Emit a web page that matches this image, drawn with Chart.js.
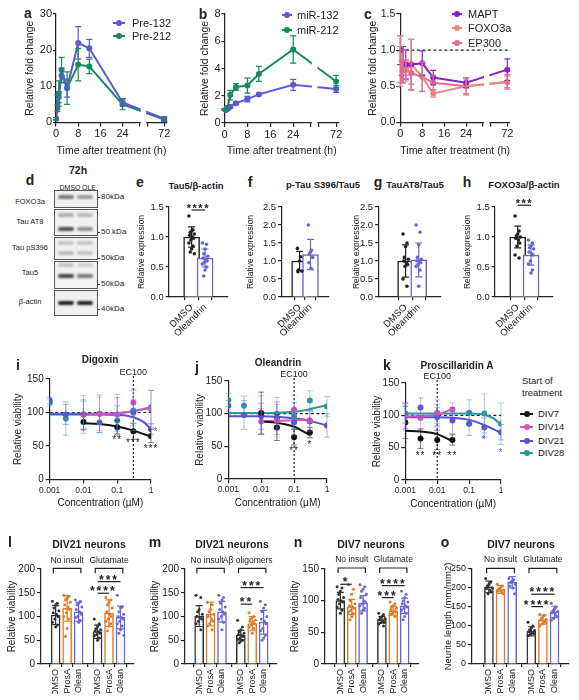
<!DOCTYPE html>
<html>
<head>
<meta charset="utf-8">
<title>Oleandrin / cardiac glycoside figure</title>
<script src="https://cdn.jsdelivr.net/npm/chart.js@4.4.1/dist/chart.umd.min.js"></script>
<style>
  body { margin: 0; width: 579px; height: 700px; position: relative; overflow: hidden; background: #fff;
         font-family: "Liberation Sans", Arial, sans-serif; color: #222; }
  canvas { position: absolute; }
  .t { position: absolute; white-space: nowrap; line-height: 1; transform: translate(-50%, -50%); }
  .l { position: absolute; white-space: nowrap; line-height: 1; transform: translateY(-50%); }
  .b { font-weight: bold; }
  .blot { position: absolute; border: 1px solid #555; background: #f1f1f1; box-sizing: border-box; }
  .band { position: absolute; border-radius: 3px; filter: blur(1px); }
</style>
</head>
<body>
<script>
// ---- row 1: time courses (a, b, c) ----
const hours = [0, 0.5, 1, 2, 4, 8, 12, 24, 72];
const timeTicks = [0, 8, 16, 24, 72];

const pre132 = [1, 4, 7, 13, 9.5, 22, 20.5, 5.5, 1];
const pre132Sd = [0.3, 1, 1.5, 2, 2.5, 4.5, 2.5, 1, 0.6];
const pre212 = [1, 5.5, 8, 14.5, 9.5, 16, 15.5, 5, 0.8];
const pre212Sd = [0.3, 2, 3.5, 3.5, 4.5, 4.5, 2, 1.5, 0.5];

const mir132 = [1, 0.95, 1.05, 1.2, 1.45, 1.75, 2.1, 2.8, 2.5];
const mir132Sd = [0.05, 0.1, 0.1, 0.1, 0.1, 0.2, 0.1, 0.4, 0.25];
const mir212 = [1, 1, 1.1, 2.05, 2.65, 2.75, 3.6, 5.4, 3.05];
const mir212Sd = [0.05, 0.1, 0.15, 0.35, 0.25, 0.55, 0.55, 1.0, 0.45];

const mapt = [1.0, 0.85, 0.8, 0.8, 0.8, 0.82, 0.62, 0.55, 0.73];
const maptSd = [0.2, 0.2, 0.25, 0.2, 0.35, 0.17, 0.1, 0.07, 0.15];
const foxo3a = [0.85, 0.75, 0.75, 0.72, 0.8, 0.63, 0.4, 0.5, 0.56];
const foxo3aSd = [0.35, 0.2, 0.2, 0.15, 0.35, 0.2, 0.05, 0.1, 0.08];
const ep300 = [0.8, 0.7, 0.8, 0.75, 0.68, 0.63, 0.55, 0.5, 0.56];
const ep300Sd = [0.25, 0.15, 0.2, 0.1, 0.15, 0.2, 0.1, 0.12, 0.1];

// ---- row 2: western blot quantification (e-h) ----
const treatNames = ['DMSO', 'Oleandrin'];
const tau5Mean = [1.0, 0.65];
const tau5Sd = [0.17, 0.15];
const tau5Dmso = [1.35, 1.12, 1.1, 1.08, 1.05, 1.03, 1.0, 0.98, 0.95, 0.9, 0.85, 0.8, 0.75, 0.72];
const tau5Ole = [0.9, 0.88, 0.8, 0.72, 0.68, 0.65, 0.63, 0.6, 0.58, 0.55, 0.5, 0.45, 0.35];
const ps396Mean = [1.0, 1.18];
const ps396Sd = [0.27, 0.42];
const ps396Dmso = [1.35, 1.12, 1.0, 0.75, 0.72, 0.7];
const ps396Ole = [2.0, 1.3, 1.25, 1.2, 1.1, 0.95, 0.8];
const at8Mean = [1.0, 1.03];
const at8Sd = [0.45, 0.47];
const at8Dmso = [1.75, 1.5, 1.4, 1.1, 1.05, 1.0, 0.95, 0.9, 0.85, 0.5, 0.3];
const at8Ole = [2.0, 1.8, 1.45, 1.1, 1.05, 1.0, 1.0, 0.95, 0.9, 0.85, 0.75, 0.3];
const foxMean = [1.0, 0.7];
const foxSd = [0.18, 0.17];
const foxDmso = [1.35, 1.1, 1.05, 1.02, 1.0, 0.98, 0.95, 0.9, 0.85, 0.7, 0.65];
const foxOle = [0.95, 0.9, 0.85, 0.82, 0.8, 0.75, 0.72, 0.7, 0.6, 0.55, 0.45, 0.4];

// ---- row 3: dose response (i, j, k) ----
const conc = [0.001, 0.003, 0.01, 0.03, 0.1, 0.3, 1];
const concTicks = [0.001, 0.01, 0.1, 1];
const divNames = ['DIV7', 'DIV14', 'DIV21', 'DIV28'];

const digoxinMean = [
  [null, null, 86, null, 78, 72, 65],
  [null, null, 97, 98, 97, 115, 105],
  [118, 97, 97, 85, 97, 100, 75],
  [115, 91, 97, 98, 88, 103, 108]
];
const digoxinSd = [
  [null, null, 12, null, 10, 12, 10],
  [null, null, 28, 25, 30, 20, 28],
  [5, 15, 22, 15, 25, 20, 8],
  [5, 25, 20, 28, 22, 30, 25]
];
const digoxinFitConc = [
  [0.01, 0.03, 0.1, 0.3, 1],
  [0.01, 0.03, 0.1, 0.3, 1],
  [0.001, 0.01, 0.1, 0.3, 0.6, 1],
  [0.001, 0.01, 0.1, 0.3, 1]
];
const digoxinFit = [
  [84, 83, 79, 73, 64],
  [97, 97.5, 99, 102, 108],
  [97, 97, 96.5, 93, 86, 75],
  [98, 98, 99, 102, 107]
];

const oleandrinMean = [
  [null, null, 101, 79, 64, 71, null],
  [null, null, 88, 89, 106, 90, null],
  [112, 98, 96, 93, 87, 88, 82],
  [121, 112, 98, 100, 97, 120, 111]
];
const oleandrinSd = [
  [null, null, 32, 20, 12, 8, null],
  [null, null, 20, 25, 22, 15, null],
  [8, 22, 20, 25, 20, 15, 18],
  [10, 15, 30, 25, 20, 15, 15]
];
const oleandrinFitConc = [
  [0.01, 0.03, 0.1, 0.3],
  [0.01, 0.1, 0.3],
  [0.001, 0.01, 0.1, 0.3, 1],
  [0.001, 0.01, 0.1, 0.3, 1]
];
const oleandrinFit = [
  [88, 86, 80, 67],
  [88, 90, 91],
  [96, 96, 93, 89, 82],
  [101, 101, 103, 107, 113]
];

const proscMean = [
  [89, 64, 62, 62, null, null, null],
  [98, 96, 104, 109, null, null, null],
  [100, 112, 97, 92, 87, 81, 74],
  [103, null, 102, null, 104, 103, 87]
];
const proscSd = [
  [25, 15, 15, 8, null, null, null],
  [20, 18, 20, 10, null, null, null],
  [20, 15, 15, 20, 18, 15, 12],
  [15, null, 15, null, 20, 30, 32]
];
const proscFitConc = [
  [0.001, 0.003, 0.01, 0.03],
  [0.001, 0.01, 0.03],
  [0.001, 0.01, 0.1, 0.3, 1],
  [0.001, 0.1, 0.3, 0.6, 1]
];
const proscFit = [
  [76, 75, 71, 60],
  [98, 101, 110],
  [97, 97, 93, 85, 73],
  [103, 103, 101, 95, 85]
];

// ---- row 4: neuroprotection (l, m, n, o) ----
const drugNames = ['DMSO', 'ProsA', 'Olean', 'DMSO', 'ProsA', 'Olean'];

const lMean = [103, 117, 110, 68, 107, 98];
const lSd = [20, 27, 20, 14, 28, 24];
const lDots = [
  [132, 128, 125, 118, 112, 108, 105, 100, 95, 88, 82, 78],
  [145, 142, 138, 135, 130, 125, 120, 115, 108, 100, 95, 75, 58],
  [135, 132, 128, 125, 120, 115, 110, 105, 100, 98, 92, 88],
  [95, 85, 80, 75, 72, 70, 68, 65, 62, 60, 55, 50],
  [140, 135, 130, 125, 118, 110, 105, 100, 95, 90, 85, 80, 70],
  [145, 120, 118, 110, 105, 100, 98, 95, 90, 85, 80, 72, 65, 60]
];
const mMean = [101, 105, 110, 61, 85, 88];
const mSd = [22, 25, 22, 10, 15, 25];
const mDots = [
  [145, 140, 115, 110, 105, 100, 98, 95, 90, 85, 72],
  [130, 125, 115, 110, 105, 100, 95, 90, 85, 80, 72],
  [145, 140, 135, 128, 120, 115, 110, 105, 100, 95, 88, 72],
  [92, 78, 72, 68, 65, 62, 60, 58, 55, 52, 50, 48, 45],
  [108, 100, 98, 95, 92, 90, 88, 85, 82, 78, 75, 65],
  [132, 125, 118, 110, 100, 95, 90, 85, 75, 70, 60, 55, 50]
];
const nMean = [100, 90, 96, 70, 84, 92];
const nSd = [13, 12, 12, 5, 7, 12];
const nDots = [
  [122, 120, 115, 110, 105, 102, 100, 98, 95, 90, 85, 80],
  [125, 118, 110, 100, 95, 92, 90, 88, 85, 82, 80, 75, 70],
  [125, 122, 118, 115, 110, 105, 100, 98, 95, 92, 88, 85, 80],
  [80, 78, 75, 73, 72, 70, 68, 66, 65, 63, 60],
  [98, 95, 92, 90, 88, 86, 84, 82, 80, 78, 75],
  [115, 110, 105, 100, 98, 95, 92, 90, 88, 85, 80, 75, 70]
];
const oMean = [203, 196, 215, 86, 117, 137];
const oSd = [15, 10, 15, 12, 12, 15];
const oDots = [
  [225, 215, 210, 205, 200, 198, 195, 190, 185],
  [210, 205, 200, 198, 195, 192, 190, 185],
  [225, 222, 218, 215, 210, 205, 200, 185],
  [110, 100, 95, 90, 88, 85, 82, 80, 78, 75],
  [130, 128, 125, 120, 118, 115, 112, 110, 105, 100],
  [160, 150, 145, 140, 138, 135, 130, 125, 120, 115]
];

// ---- styling ----
const FONT = '"Liberation Sans", Arial, sans-serif';
const INK = '#222';
const BLUE = '#5b59d3';
const GREEN = '#178a5c';
const MAPT_C = '#8b22c6', FOXO_C = '#ea8a7e', EP300_C = '#e2679a';
const DIV_C = ['#111111', '#d651c8', '#5a52d0', '#2a98a3'];
const DIV_ERR = ['rgba(17,17,17,0.55)', 'rgba(214,81,200,0.45)', 'rgba(90,82,208,0.45)', 'rgba(42,152,163,0.45)'];
const DRUG_C = ['#333333', '#e07a24', '#6b66d8', '#333333', '#e07a24', '#6b66d8'];
const OLE_C = '#6a66d0';
const groupPos = [0, 1, 2, 3.65, 4.65, 5.65];
const JIT = [-1, 0.5, 0, -0.5, 1, -0.75, 0.25, 0.75, -0.25];
const X_BREAK = [30, 33];

Chart.defaults.font.family = FONT;
Chart.defaults.color = INK;
Chart.defaults.animation = false;
Chart.defaults.plugins.legend.display = false;
Chart.defaults.plugins.tooltip.enabled = false;

function breakX(h) { return h > 30 ? 39 : h; } // 72 h sits after the axis break

// error bars, drawn from each dataset's "errors" array through its scales
const errorBars = {
  id: 'errorBars',
  afterDatasetsDraw(chart) {
    const ctx = chart.ctx;
    chart.data.datasets.forEach((ds, di) => {
      if (!ds.errors) return;
      const meta = chart.getDatasetMeta(di);
      const xs = chart.scales[meta.xAxisID], ys = chart.scales[meta.yAxisID];
      ctx.save();
      ctx.lineWidth = ds.errWidth || 1;
      ds.data.forEach((p, i) => {
        const e = ds.errors[i];
        if (!p || p.y == null || e == null) return;
        const x = xs.getPixelForValue(p.x);
        const y1 = ys.getPixelForValue(p.y + e), y2 = ys.getPixelForValue(p.y - e);
        const cap = ds.errCap || 3;
        ctx.strokeStyle = Array.isArray(ds.errColor) ? ds.errColor[i] : (ds.errColor || ds.borderColor);
        ctx.beginPath();
        ctx.moveTo(x, y1); ctx.lineTo(x, y2);
        ctx.moveTo(x - cap, y1); ctx.lineTo(x + cap, y1);
        ctx.moveTo(x - cap, y2); ctx.lineTo(x + cap, y2);
        ctx.stroke();
      });
      ctx.restore();
    });
  }
};

function annotPlugin(cfg) {
  return {
    id: 'annot',
    beforeDatasetsDraw(chart) {
      const { ctx, chartArea: a, scales } = chart;
      const xs = scales.x, ys = scales.y;
      ctx.save();
      ctx.strokeStyle = INK;
      ctx.lineWidth = 1.2;
      (cfg.hlines || []).forEach(v => {
        const py = ys.getPixelForValue(v);
        ctx.setLineDash([3, 2.5]);
        ctx.beginPath(); ctx.moveTo(a.left, py); ctx.lineTo(a.right, py); ctx.stroke();
      });
      (cfg.vlines || []).forEach(v => {
        const px = xs.getPixelForValue(v.x);
        ctx.setLineDash([2, 2]);
        ctx.beginPath(); ctx.moveTo(px, a.top - 3); ctx.lineTo(px, a.bottom); ctx.stroke();
        ctx.setLineDash([]);
        ctx.fillStyle = INK; ctx.font = '9px ' + FONT;
        ctx.textAlign = 'center'; ctx.textBaseline = 'bottom';
        ctx.fillText(v.label, px, a.top - 2);
      });
      ctx.restore();
    },
    afterDatasetsDraw(chart) {
      const { ctx, chartArea: a, scales } = chart;
      const xs = scales.x, ys = scales.y;
      ctx.save();
      if (cfg.gap) {
        const g1 = xs.getPixelForValue(cfg.gap[0]) + 1.5, g2 = xs.getPixelForValue(cfg.gap[1]) - 1.5;
        ctx.fillStyle = '#fff';
        ctx.fillRect(g1, a.top - 5, g2 - g1, a.bottom - a.top + 7);
      }
      ctx.strokeStyle = INK; ctx.fillStyle = INK; ctx.lineWidth = 1.2;
      ctx.textAlign = 'center';
      (cfg.brackets || []).forEach(b => {
        const x1 = xs.getPixelForValue(b.x1), x2 = xs.getPixelForValue(b.x2), y = ys.getPixelForValue(b.y);
        ctx.beginPath(); ctx.moveTo(x1, y + 5); ctx.lineTo(x1, y); ctx.lineTo(x2, y); ctx.lineTo(x2, y + 5); ctx.stroke();
        ctx.font = '8.5px ' + FONT; ctx.textBaseline = 'middle';
        ctx.fillText(b.label, xs.getPixelForValue(b.lx), ys.getPixelForValue(b.ly));
      });
      (cfg.sigs || []).forEach(s => {
        const x1 = xs.getPixelForValue(s.x1), x2 = xs.getPixelForValue(s.x2), y = ys.getPixelForValue(s.y);
        ctx.beginPath(); ctx.moveTo(x1, y); ctx.lineTo(x2, y); ctx.stroke();
        ctx.font = 'bold ' + (cfg.sigSize || 12) + 'px ' + FONT;
        ctx.letterSpacing = (cfg.sigSpace || 1) + 'px';
        ctx.textBaseline = 'alphabetic';
        ctx.fillText(s.text, (x1 + x2) / 2, y + 2);
      });
      (cfg.texts || []).forEach(t => {
        ctx.fillStyle = t.color || INK;
        ctx.font = '10px ' + FONT;
        ctx.letterSpacing = '1px';
        ctx.textBaseline = 'middle';
        ctx.fillText(t.text, xs.getPixelForValue(t.x), ys.getPixelForValue(t.y) + 3);
      });
      ctx.restore();
    }
  };
}

function axisCfg(o) {
  const c = {
    type: o.type || 'linear',
    min: o.min, max: o.max,
    grid: { drawOnChartArea: false, drawTicks: true, tickLength: o.tl ?? 4, color: INK, lineWidth: 1.2 },
    border: { display: true, color: INK, width: 1.2 },
    ticks: { font: { size: o.fs }, color: INK, padding: o.pad ?? 2, autoSkip: false,
             maxRotation: o.rot || 0, minRotation: o.rot || 0 },
    title: { display: !!o.title, text: o.title, font: { size: o.tfs }, padding: 0, color: INK }
  };
  if (o.step) c.ticks.stepSize = o.step;
  if (o.cb) c.ticks.callback = o.cb;
  if (o.at) c.afterBuildTicks = sc => { sc.ticks = o.at.map(v => ({ value: v })); };
  return c;
}

// area = chart area [left, top, right, bottom] on the page
function makeChart(s) {
  const [l, t, r, b] = s.area;
  const L = l - s.yW, T = t - s.padT;
  const W = Math.round(r - L + s.padR), H = Math.round(b - T + s.xH);
  const cv = document.createElement('canvas');
  cv.width = W; cv.height = H;
  cv.style.left = L + 'px'; cv.style.top = T + 'px';
  document.body.appendChild(cv);
  const x = axisCfg(s.x), y = axisCfg(s.y);
  x.afterFit = sc => { sc.height = s.xH; };
  y.afterFit = sc => { sc.width = s.yW; };
  return new Chart(cv, {
    type: 'scatter',
    data: { datasets: s.datasets },
    options: {
      responsive: false,
      layout: { padding: { top: s.padT, right: s.padR, left: 0, bottom: 0 } },
      scales: { x, y }
    },
    plugins: [errorBars, annotPlugin(s.annot || {})]
  });
}

// ---------- text helpers ----------
function txt(x, y, s, size, bold, cls) {
  const d = document.createElement('div');
  d.className = (cls || 't') + (bold ? ' b' : '');
  d.style.left = x + 'px'; d.style.top = y + 'px'; d.style.fontSize = size + 'px';
  d.textContent = s;
  document.body.appendChild(d);
  return d;
}
function legendItem(x, w, tx, y, color, label, size) {
  const line = document.createElement('div');
  line.style.cssText = `position:absolute;left:${x}px;top:${y - 1}px;width:${w}px;height:2px;background:${color}`;
  const dot = document.createElement('div');
  dot.style.cssText = `position:absolute;left:${x + w / 2 - 3}px;top:${y - 3}px;width:6px;height:6px;border-radius:50%;background:${color}`;
  document.body.append(line, dot);
  txt(tx, y, label, size, false, 'l');
}

// ---------- row 1 ----------
function timeLine(vals, sd, color) {
  return {
    type: 'line', showLine: true,
    data: hours.map((h, i) => ({ x: breakX(h), y: vals[i] })),
    errors: sd, borderColor: color, backgroundColor: color, pointBackgroundColor: color,
    borderWidth: 2, pointRadius: 3, pointBorderWidth: 0, tension: 0, errCap: 3, errWidth: 1.2
  };
}
const timeAxis = {
  min: 0, max: 40, fs: 11, tl: 4, pad: 1, title: 'Time after treatment (h)', tfs: 10.5,
  at: [...timeTicks.map(breakX), ...X_BREAK],
  cb: v => { const i = timeTicks.findIndex(t => breakX(t) === v); return i >= 0 ? String(timeTicks[i]) : ''; }
};

makeChart({
  area: [55.5, 14, 166.7, 122.7], yW: 32, xH: 34.6, padT: 8, padR: 10,
  x: timeAxis,
  y: { min: 0, max: 30, step: 10, fs: 11, tl: 3, pad: 1, title: 'Relative fold change', tfs: 10.5 },
  datasets: [timeLine(pre132, pre132Sd, BLUE), timeLine(pre212, pre212Sd, GREEN)],
  annot: { gap: X_BREAK }
});
makeChart({
  area: [224, 14, 338, 123.3], yW: 25.5, xH: 34, padT: 8, padR: 10,
  x: timeAxis,
  y: { min: 0, max: 8, step: 2, fs: 11, tl: 3, pad: 1, title: 'Relative fold change', tfs: 10.5 },
  datasets: [timeLine(mir132, mir132Sd, BLUE), timeLine(mir212, mir212Sd, GREEN)],
  annot: { gap: X_BREAK }
});
makeChart({
  area: [400.7, 14, 510.7, 122.7], yW: 33.3, xH: 34.6, padT: 8, padR: 10,
  x: timeAxis,
  y: { min: 0, max: 1.5, step: 0.5, fs: 10.5, tl: 4, pad: 1, title: 'Relative fold change', tfs: 10.5,
       cb: v => v.toFixed(1) },
  datasets: [timeLine(mapt, maptSd, MAPT_C), timeLine(foxo3a, foxo3aSd, FOXO_C), timeLine(ep300, ep300Sd, EP300_C)],
  annot: { gap: X_BREAK, hlines: [1] }
});

legendItem(113, 12, 132, 23.3, BLUE, 'Pre-132', 11);
legendItem(113, 12, 132, 35.7, GREEN, 'Pre-212', 11);
legendItem(282, 10, 297, 15, BLUE, 'miR-132', 11);
legendItem(282, 10, 297, 30, GREEN, 'miR-212', 11);
legendItem(452, 10, 468, 14, MAPT_C, 'MAPT', 11);
legendItem(452, 10, 468, 28, FOXO_C, 'FOXO3a', 11);
legendItem(452, 10, 468, 42.7, EP300_C, 'EP300', 11);

// ---------- row 2 ----------
function dotSets(groups, positions, colors, spread, radius) {
  return groups.map((vals, g) => ({
    type: 'scatter', order: 1,
    data: vals.map((v, i) => ({ x: positions[g] + JIT[i % JIT.length] * spread, y: v })),
    pointRadius: radius, pointBorderWidth: 0, backgroundColor: colors[g], pointBackgroundColor: colors[g]
  }));
}
function barSet(means, sds, positions, colors, thick) {
  return {
    type: 'bar', order: 2,
    data: means.map((v, i) => ({ x: positions[i], y: v })),
    backgroundColor: '#fff', borderColor: colors, borderWidth: 1.5, barThickness: thick,
    errors: sds, errColor: colors, errCap: 3.5, errWidth: 1.2
  };
}
function exprChart(area, yW, xRange, yMax, mean, sd, dmso, ole, sig) {
  const cols = [INK, OLE_C];
  makeChart({
    area, yW, xH: 42, padT: 14, padR: 8,
    x: { min: xRange[0], max: xRange[1], fs: 9.5, tl: 3, pad: 2, rot: 45, at: [0, 1], cb: v => treatNames[v] },
    y: { min: 0, max: yMax, step: 0.5, fs: 9.5, tl: 3, pad: 2, title: 'Relative expression', tfs: 8.5,
         cb: v => v.toFixed(1) },
    datasets: [barSet(mean, sd, [0, 1], cols, 16), ...dotSets([dmso, ole], [0, 1], cols, 0.2, 1.8)],
    annot: { sigs: sig ? [sig] : [], sigSize: 11, sigSpace: 1.5 }
  });
}
exprChart([168.3, 206.7, 228, 297], 31.7, [-0.6, 1.6], 1.5, tau5Mean, tau5Sd, tau5Dmso, tau5Ole,
          { x1: 0, x2: 1, y: 1.45, text: '****' });
exprChart([281, 206.7, 329.3, 297], 35.1, [-0.6, 1.6], 2.5, ps396Mean, ps396Sd, ps396Dmso, ps396Ole, null);
exprChart([378, 206.7, 440.4, 297], 26.1, [-0.9, 1.5], 2.5, at8Mean, at8Sd, at8Dmso, at8Ole, null);
exprChart([495, 206.7, 553.3, 297], 31.8, [-0.63, 1.56], 1.5, foxMean, foxSd, foxDmso, foxOle,
          { x1: 0, x2: 1, y: 1.53, text: '***' });

// blot (panel d)
const blotLanes = [66, 85];
const blotRows = [
  { name: 'FOXO3a', ny: 201.7, top: 190, h: 18, kda: '80kDa', ky: 196.7, bands: [[197, 0.55, 0.4]] },
  { name: 'Tau AT8', ny: 221.7, top: 209, h: 27, kda: '50 kDa', ky: 232.3, bands: [[215, 0.3, 0.25], [229, 0.75, 0.45]] },
  { name: 'Tau pS396', ny: 247.7, top: 237, h: 23, kda: '50kDa', ky: 257.7, bands: [[243, 0.2, 0.2], [253, 0.25, 0.22]] },
  { name: 'Tau5', ny: 273.3, top: 261, h: 28, kda: '50kDa', ky: 284.3, bands: [[265, 0.2, 0.15], [276, 0.8, 0.55]] },
  { name: 'β-actin', ny: 302.3, top: 290, h: 26, kda: '40kDa', ky: 309, bands: [[303, 0.95, 0.95]] }
];
blotRows.forEach(r => {
  const box = document.createElement('div');
  box.className = 'blot';
  box.style.cssText += `left:54px;top:${r.top}px;width:44px;height:${r.h}px`;
  document.body.appendChild(box);
  r.bands.forEach(([by, a1, a2]) => {
    [a1, a2].forEach((a, k) => {
      const band = document.createElement('div');
      band.className = 'band';
      band.style.cssText += `left:${blotLanes[k] - 8}px;top:${by - 2}px;width:16px;height:4px;background:rgba(20,20,20,${a})`;
      document.body.appendChild(band);
    });
  });
  txt(30, r.ny, r.name, 7.5);
  const tick = document.createElement('div');
  tick.style.cssText = `position:absolute;left:97px;top:${r.ky}px;width:3px;height:1px;background:#444`;
  document.body.appendChild(tick);
  txt(101, r.ky, r.kda, 8, false, 'l');
});
txt(78, 170, '72h', 10.5, true);
txt(70, 187, 'DMSO', 7);
txt(89, 187, 'OLE', 7);

// ---------- row 3 ----------
function doseSets(mean, sd, fitConc, fit) {
  const sets = [];
  mean.forEach((vals, d) => {
    sets.push({
      type: 'line', showLine: true, order: 2,
      data: fitConc[d].map((c, i) => ({ x: c, y: fit[d][i] })),
      borderColor: DIV_C[d], borderWidth: 2, pointRadius: 0, tension: 0.4, cubicInterpolationMode: 'monotone'
    });
    sets.push({
      type: 'scatter', order: 1,
      data: conc.map((c, i) => ({ x: c, y: vals[i] })),
      errors: sd[d], errColor: DIV_ERR[d], errCap: 3, errWidth: 1,
      pointRadius: 3, pointBorderWidth: 0, backgroundColor: DIV_C[d], pointBackgroundColor: DIV_C[d]
    });
  });
  return sets;
}
const concAxis = {
  type: 'logarithmic', min: 0.001, max: 1, fs: 8.5, tl: 4, pad: 2, at: concTicks,
  cb: v => String(v), title: 'Concentration (µM)', tfs: 10
};
const viabAxis = { min: 0, max: 150, step: 50, fs: 10, tl: 4, pad: 2, title: 'Relative viability', tfs: 10 };

makeChart({
  area: [50, 378.5, 151.7, 478.5], yW: 37.7, xH: 29.5, padT: 16, padR: 14,
  x: concAxis, y: viabAxis,
  datasets: doseSets(digoxinMean, digoxinSd, digoxinFitConc, digoxinFit),
  annot: { hlines: [100], vlines: [{ x: 0.3, label: 'EC100' }],
           texts: [{ x: 0.1, y: 63, text: '**' }, { x: 0.3, y: 59, text: '***' }, { x: 1, y: 49, text: '***' },
                   { x: 1.4, y: 75, text: '*', color: DIV_C[2] }] }
});
makeChart({
  area: [228.3, 380.5, 326.7, 478.7], yW: 34.3, xH: 30, padT: 16, padR: 14,
  x: concAxis, y: viabAxis,
  datasets: doseSets(oleandrinMean, oleandrinSd, oleandrinFitConc, oleandrinFit),
  annot: { hlines: [100], vlines: [{ x: 0.1, label: 'EC100' }],
           texts: [{ x: 0.1, y: 47, text: '**' }, { x: 0.3, y: 56, text: '*' }] }
});
makeChart({
  area: [405, 382.5, 501, 479], yW: 34.3, xH: 30, padT: 16, padR: 14,
  x: concAxis, y: viabAxis,
  datasets: doseSets(proscMean, proscSd, proscFitConc, proscFit),
  annot: { hlines: [100], vlines: [{ x: 0.01, label: 'EC100' }],
           texts: [{ x: 0.003, y: 41, text: '**' }, { x: 0.01, y: 41, text: '**' }, { x: 0.03, y: 41, text: '**' },
                   { x: 0.3, y: 66, text: '*', color: DIV_C[2] }, { x: 1, y: 46, text: '*', color: DIV_C[2] }] }
});
txt(522, 381, 'Start of', 9.5, false, 'l');
txt(522, 393, 'treatment', 9.5, false, 'l');
divNames.forEach((n, d) => legendItem(520, 13, 538, [414.3, 427.3, 440.7, 453.3][d], DIV_C[d], n, 9.5));

// ---------- row 4 ----------
function viabChart(s) {
  makeChart({
    area: s.area, yW: s.yW, xH: 30, padT: 20, padR: 6,
    x: { min: s.xr[0], max: s.xr[1], fs: 9, tl: 3, pad: 2, rot: 90, at: groupPos,
         cb: (v, i) => drugNames[i] },
    y: { min: 0, max: s.yMax, step: 50, fs: s.fs || 10, tl: 4, pad: 2, title: s.title, tfs: s.tfs || 10 },
    datasets: [barSet(s.mean, s.sd, groupPos, DRUG_C, 9), ...dotSets(s.dots, groupPos, DRUG_C, 0.28, 1.5)],
    annot: {
      brackets: [{ x1: -0.2, x2: 2.2, y: s.by, label: 'No insult', lx: s.nlx ?? 1, ly: s.ly },
                 { x1: 3.45, x2: 5.85, y: s.by, label: s.insult, lx: s.ilx, ly: s.ly }],
      sigs: s.sigs, sigSize: 12, sigSpace: 2
    }
  });
}
viabChart({ area: [40.7, 569, 133.3, 664.3], yW: 35, xr: [-0.6, 6.15], yMax: 200, title: 'Relative viability',
            mean: lMean, sd: lSd, dots: lDots, by: 201.5, ly: 216.8, insult: 'Glutamate', ilx: 4.65,
            sigs: [{ x1: 3.65, x2: 4.65, y: 149, text: '****' }, { x1: 3.65, x2: 5.65, y: 173.4, text: '***' }] });
viabChart({ area: [185, 569, 276.7, 664.3], yW: 36, xr: [-0.57, 6.15], yMax: 200, title: 'Relative viability',
            mean: mMean, sd: mSd, dots: mDots, by: 201.5, ly: 216.8, insult: 'Aβ oligomers', ilx: 4.25, nlx: 0.7,
            sigs: [{ x1: 3.65, x2: 4.65, y: 126, text: '**' }, { x1: 3.65, x2: 5.65, y: 160.8, text: '***' }] });
viabChart({ area: [325, 569, 419, 664.3], yW: 36, xr: [-0.66, 6.22], yMax: 150, title: 'Relative viability',
            mean: nMean, sd: nSd, dots: nDots, by: 151.6, ly: 164.6, insult: 'Glutamate', ilx: 4.65,
            sigs: [{ x1: 0, x2: 1, y: 125.9, text: '*' }, { x1: 3.65, x2: 5.65, y: 123.7, text: '****' },
                   { x1: 3.65, x2: 4.65, y: 104.8, text: '***' }] });
viabChart({ area: [471.7, 569, 569, 664.3], yW: 28.9, xr: [-0.77, 6.2], yMax: 250, title: 'Neurite length (mm/mm2)',
            fs: 9, tfs: 9.5,
            mean: oMean, sd: oSd, dots: oDots, by: 251.8, ly: 274.4, insult: 'Glutamate', ilx: 4.65,
            sigs: [{ x1: 3.65, x2: 5.65, y: 183.6, text: '****' }, { x1: 3.65, x2: 4.65, y: 151, text: '****' }] });

// ---------- panel letters and titles ----------
[['a', 28, 13], ['b', 203, 14], ['c', 368, 14], ['d', 30, 180], ['e', 140, 182], ['f', 250, 182],
 ['g', 378, 182], ['h', 467, 182], ['i', 18, 365], ['j', 197, 367], ['k', 387, 365],
 ['l', 10, 542], ['m', 155, 542], ['n', 298, 542], ['o', 445, 542]]
  .forEach(([s, x, y]) => txt(x, y, s, 14, true));

txt(196, 186, 'Tau5/β-actin', 9.5, true);
txt(323, 185, 'p-Tau S396/Tau5', 9.5, true);
txt(415, 185, 'TauAT8/Tau5', 9.5, true);
txt(524, 185, 'FOXO3a/β-actin', 9.5, true);
txt(100, 360, 'Digoxin', 10, true);
txt(278, 363, 'Oleandrin', 10, true);
txt(457, 366, 'Proscillaridin A', 10, true);
txt(89, 544, 'DIV21 neurons', 10.5, true);
txt(232, 544, 'DIV21 neurons', 10.5, true);
txt(371, 544, 'DIV7 neurons', 10.5, true);
txt(521, 544, 'DIV7 neurons', 10.5, true);
</script>
</body>
</html>
